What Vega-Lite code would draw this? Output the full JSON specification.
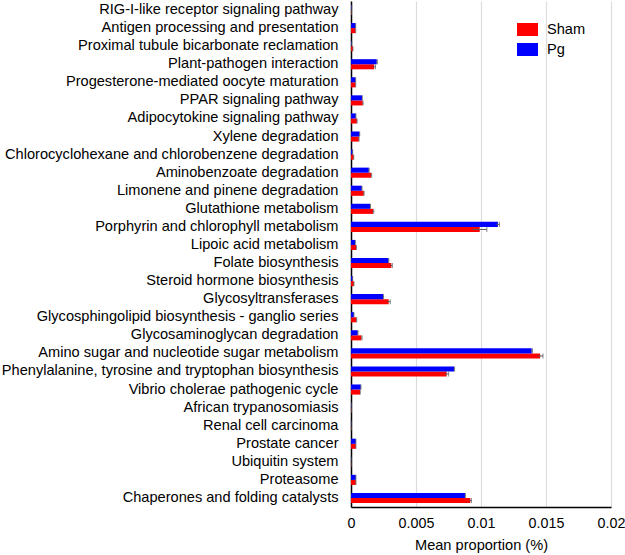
{
  "$schema": "https://vega.github.io/schema/vega-lite/v6.json",
  "width": 260,
  "height": 506,
  "autosize": "none",
  "padding": {"left": 351, "top": 1, "right": 14, "bottom": 48},
  "background": "white",
  "config": {
    "font": "Liberation Sans",
    "view": {"stroke": null}
  },
  "data": {
    "values": [
      {"pathway": "RIG-I-like receptor signaling pathway", "group": "Sham", "value": 0.00004, "err": 0},
      {"pathway": "RIG-I-like receptor signaling pathway", "group": "Pg", "value": 0.00005, "err": 0},
      {"pathway": "Antigen processing and presentation", "group": "Sham", "value": 0.00035, "err": 0.00001},
      {"pathway": "Antigen processing and presentation", "group": "Pg", "value": 0.00035, "err": 0.00001},
      {"pathway": "Proximal tubule bicarbonate reclamation", "group": "Sham", "value": 0.00014, "err": 0.00001},
      {"pathway": "Proximal tubule bicarbonate reclamation", "group": "Pg", "value": 0.00005, "err": 0},
      {"pathway": "Plant-pathogen interaction", "group": "Sham", "value": 0.00178, "err": 0.0001},
      {"pathway": "Plant-pathogen interaction", "group": "Pg", "value": 0.00198, "err": 0.00005},
      {"pathway": "Progesterone-mediated oocyte maturation", "group": "Sham", "value": 0.00035, "err": 0.00001},
      {"pathway": "Progesterone-mediated oocyte maturation", "group": "Pg", "value": 0.00035, "err": 0.00001},
      {"pathway": "PPAR signaling pathway", "group": "Sham", "value": 0.0009, "err": 0.00003},
      {"pathway": "PPAR signaling pathway", "group": "Pg", "value": 0.00085, "err": 0.00002},
      {"pathway": "Adipocytokine signaling pathway", "group": "Sham", "value": 0.00045, "err": 0.00002},
      {"pathway": "Adipocytokine signaling pathway", "group": "Pg", "value": 0.00037, "err": 0.00001},
      {"pathway": "Xylene degradation", "group": "Sham", "value": 0.0006, "err": 0.00002},
      {"pathway": "Xylene degradation", "group": "Pg", "value": 0.00065, "err": 0.00002},
      {"pathway": "Chlorocyclohexane and chlorobenzene degradation", "group": "Sham", "value": 0.0002, "err": 0.00001},
      {"pathway": "Chlorocyclohexane and chlorobenzene degradation", "group": "Pg", "value": 0.00012, "err": 0.00001},
      {"pathway": "Aminobenzoate degradation", "group": "Sham", "value": 0.00155, "err": 0.00004},
      {"pathway": "Aminobenzoate degradation", "group": "Pg", "value": 0.00137, "err": 0.00003},
      {"pathway": "Limonene and pinene degradation", "group": "Sham", "value": 0.00098, "err": 0.00003},
      {"pathway": "Limonene and pinene degradation", "group": "Pg", "value": 0.00083, "err": 0.00002},
      {"pathway": "Glutathione metabolism", "group": "Sham", "value": 0.0017, "err": 0.00005},
      {"pathway": "Glutathione metabolism", "group": "Pg", "value": 0.00147, "err": 0.00003},
      {"pathway": "Porphyrin and chlorophyll metabolism", "group": "Sham", "value": 0.0099, "err": 0.00055},
      {"pathway": "Porphyrin and chlorophyll metabolism", "group": "Pg", "value": 0.0113, "err": 0.00012},
      {"pathway": "Lipoic acid metabolism", "group": "Sham", "value": 0.0004, "err": 0.00001},
      {"pathway": "Lipoic acid metabolism", "group": "Pg", "value": 0.00032, "err": 0.00001},
      {"pathway": "Folate biosynthesis", "group": "Sham", "value": 0.0031, "err": 0.00008},
      {"pathway": "Folate biosynthesis", "group": "Pg", "value": 0.00288, "err": 0.00003},
      {"pathway": "Steroid hormone biosynthesis", "group": "Sham", "value": 0.00022, "err": 0.00001},
      {"pathway": "Steroid hormone biosynthesis", "group": "Pg", "value": 0.00012, "err": 0.00001},
      {"pathway": "Glycosyltransferases", "group": "Sham", "value": 0.0029, "err": 0.00012},
      {"pathway": "Glycosyltransferases", "group": "Pg", "value": 0.00247, "err": 0.00003},
      {"pathway": "Glycosphingolipid biosynthesis - ganglio series", "group": "Sham", "value": 0.00042, "err": 0.00002},
      {"pathway": "Glycosphingolipid biosynthesis - ganglio series", "group": "Pg", "value": 0.00022, "err": 0.00001},
      {"pathway": "Glycosaminoglycan degradation", "group": "Sham", "value": 0.0008, "err": 0.00005},
      {"pathway": "Glycosaminoglycan degradation", "group": "Pg", "value": 0.00052, "err": 0.00002},
      {"pathway": "Amino sugar and nucleotide sugar metabolism", "group": "Sham", "value": 0.01455, "err": 0.00022},
      {"pathway": "Amino sugar and nucleotide sugar metabolism", "group": "Pg", "value": 0.0139, "err": 0.00006},
      {"pathway": "Phenylalanine, tyrosine and tryptophan biosynthesis", "group": "Sham", "value": 0.00736, "err": 0.00015},
      {"pathway": "Phenylalanine, tyrosine and tryptophan biosynthesis", "group": "Pg", "value": 0.00793, "err": 0.00004},
      {"pathway": "Vibrio cholerae pathogenic cycle", "group": "Sham", "value": 0.0007, "err": 0.00001},
      {"pathway": "Vibrio cholerae pathogenic cycle", "group": "Pg", "value": 0.00075, "err": 0.00002},
      {"pathway": "African trypanosomiasis", "group": "Sham", "value": 0.00003, "err": 0},
      {"pathway": "African trypanosomiasis", "group": "Pg", "value": 0.00003, "err": 0},
      {"pathway": "Renal cell carcinoma", "group": "Sham", "value": 0.00002, "err": 0},
      {"pathway": "Renal cell carcinoma", "group": "Pg", "value": 0.00002, "err": 0},
      {"pathway": "Prostate cancer", "group": "Sham", "value": 0.00037, "err": 0.00001},
      {"pathway": "Prostate cancer", "group": "Pg", "value": 0.00037, "err": 0.00001},
      {"pathway": "Ubiquitin system", "group": "Sham", "value": 0.00002, "err": 0},
      {"pathway": "Ubiquitin system", "group": "Pg", "value": 0.00002, "err": 0},
      {"pathway": "Proteasome", "group": "Sham", "value": 0.00037, "err": 0.00001},
      {"pathway": "Proteasome", "group": "Pg", "value": 0.00037, "err": 0.00001},
      {"pathway": "Chaperones and folding catalysts", "group": "Sham", "value": 0.00918, "err": 0.00008},
      {"pathway": "Chaperones and folding catalysts", "group": "Pg", "value": 0.00877, "err": 0.00003}
    ]
  },
  "transform": [
    {"calculate": "datum.value + datum.err", "as": "hi"},
    {"calculate": "datum.value - datum.err", "as": "lo"}
  ],
  "encoding": {
    "y": {
      "field": "pathway",
      "type": "nominal",
      "sort": null,
      "scale": {"paddingInner": 0.44, "paddingOuter": 0.22},
      "axis": {
        "title": null,
        "ticks": false,
        "domain": true,
        "domainColor": "#000000",
        "domainWidth": 1.5,
        "labelFont": "Liberation Sans",
        "labelFontSize": 14.6,
        "labelColor": "#000000",
        "labelPadding": 13,
        "labelLimit": 400
      }
    },
    "yOffset": {
      "field": "group",
      "type": "nominal",
      "sort": ["Pg", "Sham"],
      "scale": {"paddingInner": 0, "paddingOuter": 0}
    }
  },
  "layer": [
    {
      "mark": {"type": "bar", "stroke": null},
      "encoding": {
        "x": {
          "field": "value",
          "type": "quantitative",
          "scale": {"domain": [0, 0.02], "nice": false},
          "axis": {
            "title": "Mean proportion (%)",
            "titleFont": "Liberation Sans",
            "titleFontSize": 14.6,
            "titleFontWeight": "normal",
            "titleColor": "#000000",
            "titlePadding": 7,
            "values": [0, 0.005, 0.01, 0.015, 0.02],
            "format": "~g",
            "labelFont": "Liberation Sans",
            "labelFontSize": 14.3,
            "labelColor": "#000000",
            "labelPadding": 9,
            "ticks": false,
            "domainColor": "#000000",
            "domainWidth": 1.5,
            "grid": true,
            "gridColor": "#dcdcdc",
            "gridWidth": 1.2,
            "labelFlush": false
          }
        },
        "color": {
          "field": "group",
          "type": "nominal",
          "scale": {"domain": ["Sham", "Pg"], "range": ["#ff0000", "#0000ff"]},
          "legend": {
            "title": null,
            "orient": "none",
            "legendX": 166,
            "legendY": 18,
            "symbolType": "M-1,-0.62H1V0.62H-1Z",
            "symbolSize": 440,
            "symbolStrokeWidth": 0,
            "labelFont": "Liberation Sans",
            "labelFontSize": 14.6,
            "labelColor": "#000000",
            "labelOffset": 9,
            "rowPadding": 2
          }
        }
      }
    },
    {
      "mark": {"type": "rule", "color": "#555555", "strokeWidth": 1},
      "encoding": {
        "x": {"field": "lo", "type": "quantitative"},
        "x2": {"field": "hi"}
      }
    },
    {
      "mark": {"type": "tick", "color": "#555555", "thickness": 1, "size": 5, "orient": "vertical"},
      "encoding": {
        "x": {"field": "hi", "type": "quantitative"}
      }
    }
  ]
}
